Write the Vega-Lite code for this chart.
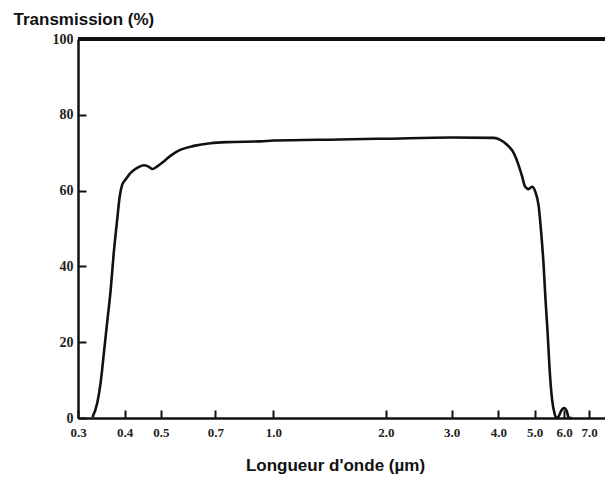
{
  "$schema": "https://vega.github.io/schema/vega-lite/v6.json",
  "width": 527,
  "height": 379,
  "autosize": {"type": "none"},
  "padding": {"left": 78, "top": 39, "right": 0, "bottom": 59},
  "background": "white",
  "config": {"view": {"stroke": null}},
  "data": {"values": [
    {"w": 0.328, "t": 0.2},
    {"w": 0.338, "t": 4.1},
    {"w": 0.345, "t": 9.4},
    {"w": 0.352, "t": 17.3},
    {"w": 0.359, "t": 25.2},
    {"w": 0.367, "t": 33.9},
    {"w": 0.374, "t": 43.6},
    {"w": 0.382, "t": 52.4},
    {"w": 0.388, "t": 58.5},
    {"w": 0.394, "t": 61.6},
    {"w": 0.402, "t": 62.9},
    {"w": 0.415, "t": 64.7},
    {"w": 0.432, "t": 66.0},
    {"w": 0.450, "t": 66.7},
    {"w": 0.462, "t": 66.4},
    {"w": 0.474, "t": 65.7},
    {"w": 0.489, "t": 66.4},
    {"w": 0.509, "t": 67.7},
    {"w": 0.536, "t": 69.5},
    {"w": 0.565, "t": 70.8},
    {"w": 0.613, "t": 71.8},
    {"w": 0.679, "t": 72.5},
    {"w": 0.753, "t": 72.8},
    {"w": 0.924, "t": 73.0},
    {"w": 1.0, "t": 73.2},
    {"w": 1.5, "t": 73.5},
    {"w": 2.0, "t": 73.7},
    {"w": 3.0, "t": 74.0},
    {"w": 3.89, "t": 73.9},
    {"w": 4.05, "t": 73.4},
    {"w": 4.22, "t": 72.1},
    {"w": 4.40, "t": 69.9},
    {"w": 4.53, "t": 66.8},
    {"w": 4.63, "t": 63.8},
    {"w": 4.72, "t": 61.0},
    {"w": 4.82, "t": 60.4},
    {"w": 4.92, "t": 61.0},
    {"w": 5.02, "t": 59.8},
    {"w": 5.13, "t": 55.9},
    {"w": 5.21, "t": 48.9},
    {"w": 5.29, "t": 40.1},
    {"w": 5.35, "t": 31.3},
    {"w": 5.42, "t": 22.6},
    {"w": 5.48, "t": 13.8},
    {"w": 5.57, "t": 5.0},
    {"w": 5.66, "t": 1.1},
    {"w": 5.73, "t": 0.0},
    {"w": 5.80, "t": 0.4},
    {"w": 5.90, "t": 2.0},
    {"w": 6.0, "t": 2.6},
    {"w": 6.1, "t": 1.8},
    {"w": 6.18, "t": 0.0},
    {"w": 6.3, "t": 0.0}
  ]},
  "layer": [
    {
      "mark": {"type": "rule", "color": "#111", "strokeWidth": 2.5},
      "encoding": {"y": {"datum": 100, "type": "quantitative", "scale": {"domain": [0, 100], "nice": false}}}
    },
    {
      "mark": {"type": "line", "color": "#111", "strokeWidth": 2.6, "interpolate": "monotone"},
      "encoding": {
        "x": {
          "field": "w", "type": "quantitative",
          "scale": {"type": "log", "domain": [0.3, 7.72], "nice": false},
          "axis": {
            "values": [0.3, 0.4, 0.5, 0.7, 1, 2, 3, 4, 5, 6, 7],
            "format": ".1f",
            "grid": false,
            "title": "Longueur d'onde (µm)",
            "titleFont": "Liberation Sans", "titleFontSize": 17, "titleFontWeight": "bold", "titleColor": "#111",
            "titleX": 257, "titleY": 52, "titleBaseline": "alphabetic", "titleAnchor": null, "titleAlign": "center",
            "labelFont": "Liberation Serif", "labelFontSize": 13, "labelFontWeight": "bold", "labelColor": "#222",
            "labelPadding": 16, "labelFlush": false, "labelOverlap": false,
            "domainColor": "#111", "domainWidth": 2.5,
            "tickColor": "#111", "tickWidth": 2, "tickSize": -8
          }
        },
        "y": {
          "field": "t", "type": "quantitative",
          "scale": {"domain": [0, 100], "nice": false},
          "axis": {
            "values": [0, 20, 40, 60, 80, 100],
            "grid": false,
            "title": "Transmission (%)",
            "titleAngle": 0, "titleAlign": "left", "titleBaseline": "alphabetic",
            "titleX": -65, "titleY": -15, "titleAnchor": null,
            "titleFont": "Liberation Sans", "titleFontSize": 17, "titleFontWeight": "bold", "titleColor": "#111",
            "labelFont": "Liberation Serif", "labelFontSize": 14, "labelFontWeight": "bold", "labelColor": "#222",
            "labelPadding": 13, "labelFlush": false,
            "domainColor": "#111", "domainWidth": 2.5,
            "tickColor": "#111", "tickWidth": 2, "tickSize": -8
          }
        }
      }
    }
  ]
}
